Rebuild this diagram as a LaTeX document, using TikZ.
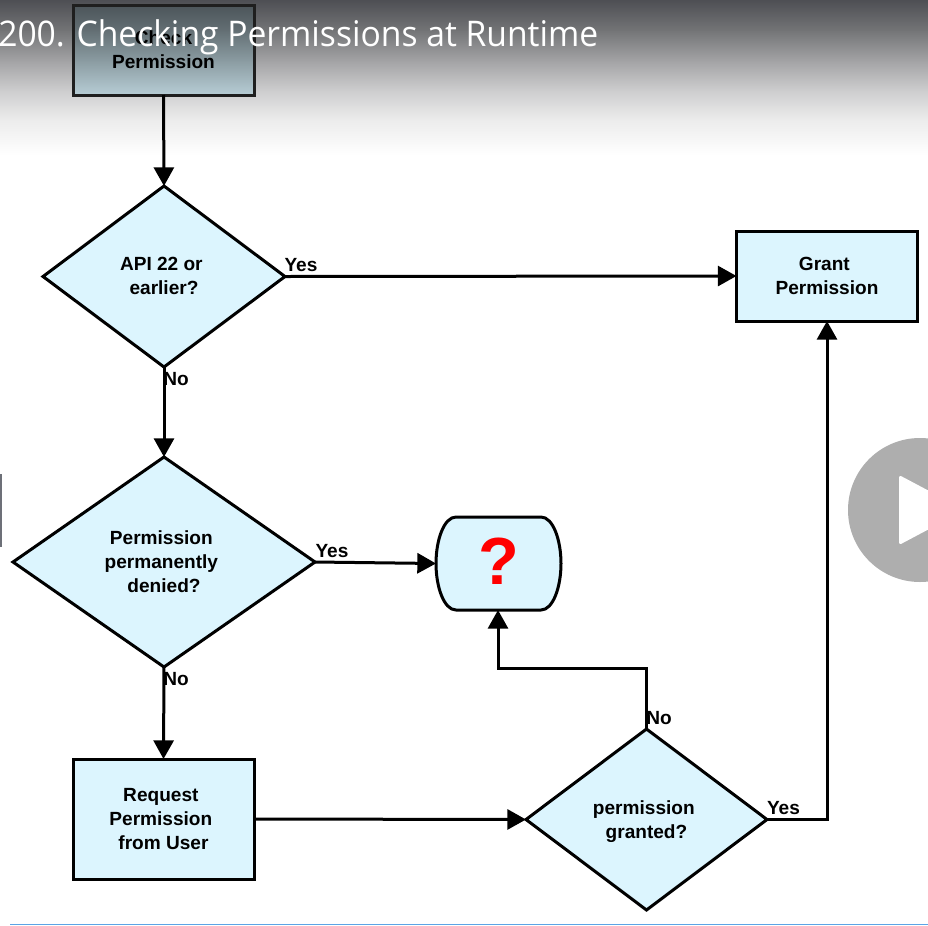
\documentclass[tikz,border=0pt]{standalone}
\usepackage{fontspec}
\setmainfont{Liberation Sans}
\newfontfamily\titlefont[FakeStretch=0.952]{Open Sans}
\usetikzlibrary{shapes.geometric,arrows.meta}
\definecolor{boxfill}{HTML}{DCF5FE}
\definecolor{playgray}{HTML}{AEAEAE}
\definecolor{edgeblue}{HTML}{5BA4E6}
\definecolor{sidebar}{HTML}{6D7078}
\newcommand{\tsp}{\hspace*{0.278em}}
\tikzset{
  x=.75pt,y=-.75pt,
  flowtext/.style={font=\bfseries\fontsize{14.3}{18}\selectfont,text=black,align=center,inner sep=0pt,outer sep=0pt},
  procbox/.style={flowtext,rectangle,draw=black,line width=2.25pt,fill=boxfill,minimum width=135.75pt},
  decision/.style={flowtext,diamond,draw=black,line width=2.25pt,fill=boxfill,line join=miter},
  flow/.style={draw=black,line width=2.25pt,-{Triangle[length=14pt,width=15pt]}},
  edgelabel/.style={font=\bfseries\fontsize{14.3}{18}\selectfont,text=black,inner sep=0pt},
  titletext/.style={font=\titlefont\fontsize{26.5}{30}\selectfont,text=white,inner sep=0pt,anchor=west}
}
\begin{document}
\begin{tikzpicture}
\clip (0,0) rectangle (928,925);
\useasboundingbox (0,0) rectangle (928,925);
\fill[white] (0,0) rectangle (928,925);
% top gradient
\definecolor{g0}{HTML}{4E4F54}\definecolor{g1}{HTML}{737476}\definecolor{g2}{HTML}{A2A2A4}
\definecolor{g3}{HTML}{CDCDCE}\definecolor{g4}{HTML}{ECECEC}
\shade[top color=g3,bottom color=g4] (0,90) rectangle (928,120);
\shade[top color=g4,bottom color=white] (0,120) rectangle (928,155);
\shade[top color=g2,bottom color=g3] (0,60) rectangle (928,90.5);
\shade[top color=g1,bottom color=g2] (0,30) rectangle (928,60.5);
\shade[top color=g0,bottom color=g1] (0,0) rectangle (928,30.5);
% shaded box fill
\definecolor{b0}{RGB}{76,85,90}\definecolor{b1}{RGB}{99,111,116}
\definecolor{b2}{RGB}{138,155,161}\definecolor{b3}{RGB}{183,205,213}
\shade[top color=b2,bottom color=b3] (73,60) rectangle (254,95);
\shade[top color=b1,bottom color=b2] (73,30) rectangle (254,60.5);
\shade[top color=b0,bottom color=b1] (73,5) rectangle (254,30.5);
% nodes
\node[procbox,fill=none,draw=black!88,minimum height=67.5pt] (check) at (163.5,50) {Check\\Permission};
\node[decision,minimum width=181.5pt,minimum height=135.75pt] (api) at (164,276.5) {API 22 or\tsp\\earlier?\rule[-1.5pt]{0pt}{0pt}};
\node[procbox,minimum height=67.5pt] (grant) at (827,276) {Grant\tsp\\Permission};
\node[decision,minimum width=226.5pt,minimum height=157.5pt] (denied) at (164,562) {Permission\tsp\\permanently\tsp\tsp\\denied?};
\draw[line width=2.25pt,fill=boxfill] (456,517) -- (541,517)
  .. controls (553,517) and (561,540) .. (561,563.5)
  .. controls (561,587) and (553,610) .. (541,610)
  -- (456,610)
  .. controls (444,610) and (436,587) .. (436,563.5)
  .. controls (436,540) and (444,517) .. (456,517) -- cycle;
\node[inner sep=0pt,outer sep=0pt,minimum width=93.75pt,minimum height=69.75pt,text=red,font=\bfseries\fontsize{50}{50}\selectfont] (unknown) at (498.5,561.5) {?};
\node[procbox,minimum height=90pt] (request) at (163.5,819) {Request\tsp\\Permission\tsp\tsp\\from User};
\node[decision,minimum width=180.75pt,minimum height=135.75pt] (granted) at (646.5,819.5) {permission\tsp\\\smash{granted?}};
% connectors
\draw[flow] (check.south) -- (api.north);
\draw[flow] (api.east) -- (grant.west);
\draw[flow] (api.south) -- (denied.north);
\draw[flow] (denied.east) -- (436,563.5);
\draw[flow] (denied.south) -- (request.north);
\draw[flow] (request.east) -- (granted.west);
\draw[flow] (granted.north) |- (498,668) -- (498,610);
\draw[flow] (granted.east) -| (grant.south);
% labels
\node[edgelabel] (l1) at (301,265.5) {Yes};
\node[edgelabel] (l2) at (176,379) {No};
\node[edgelabel] (l3) at (332,551.5) {Yes};
\node[edgelabel] (l4) at (176,679.5) {No};
\node[edgelabel] (l5) at (659,718) {No};
\node[edgelabel] (l6) at (783.5,808.5) {Yes};
% overlays
\fill[sidebar] (0,474) rectangle (1.5,547);
\draw[edgeblue,line width=1pt] (10,924.3) -- (928,924.3);
\fill[playgray] (920,510) circle[radius=72];
\fill[white,rounded corners=2pt] (899,475) -- (965,510) -- (899,545) -- cycle;
\node[titletext] (title) at (-2,37) {200. Checking Permissions at Runtime};
\end{tikzpicture}
\end{document}
